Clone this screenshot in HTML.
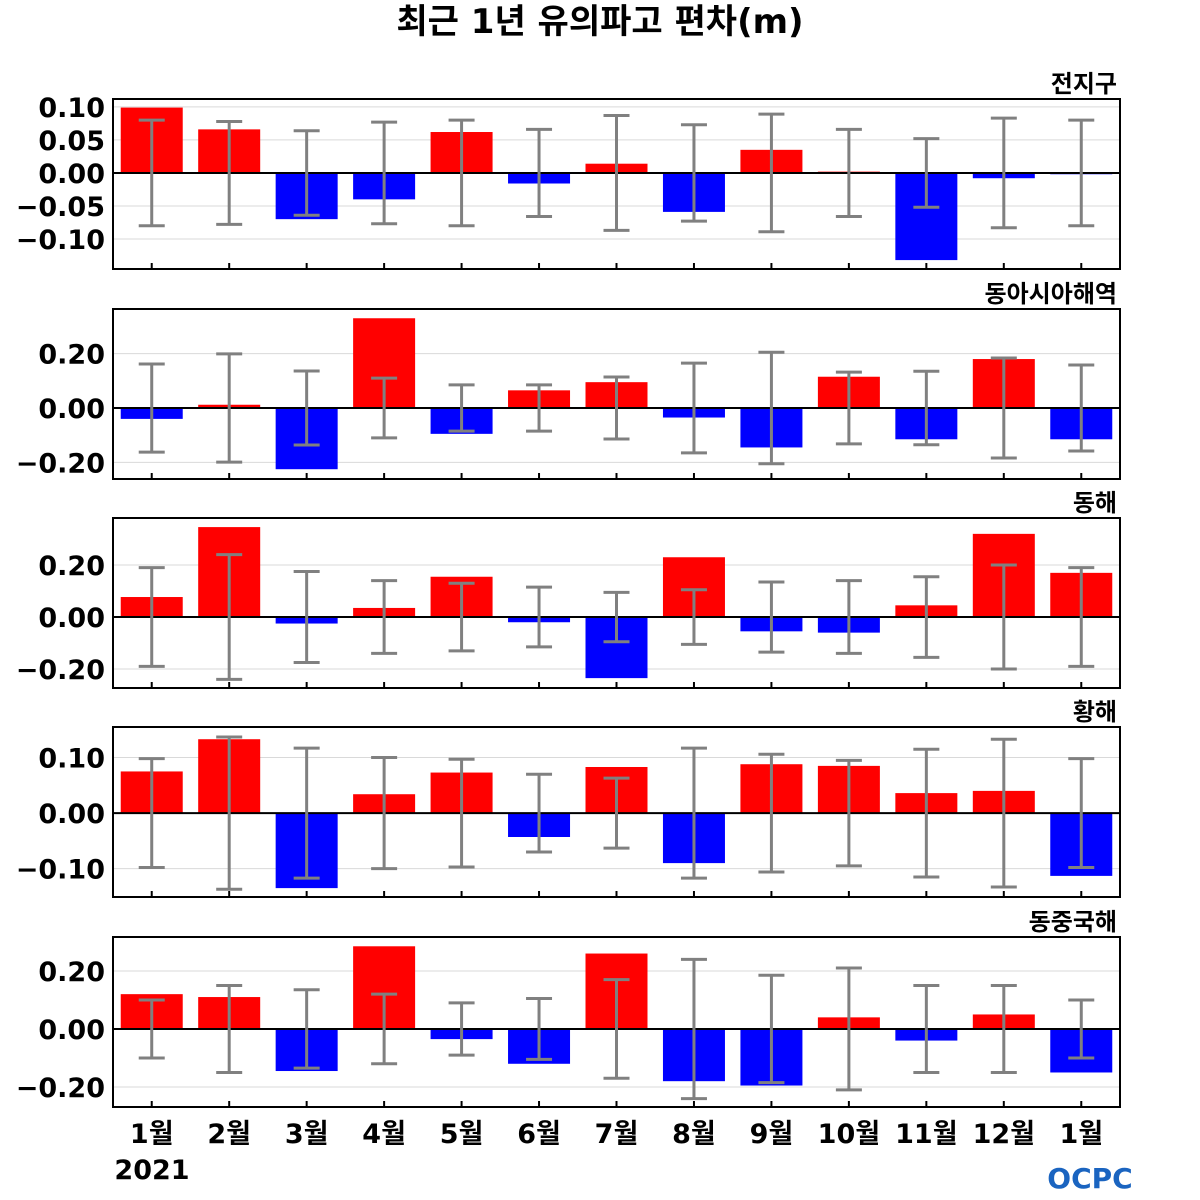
<!DOCTYPE html>
<html><head><meta charset="utf-8">
<style>
html,body{margin:0;padding:0;background:#fff;}
svg{display:block;font-family:"DejaVu Sans","Liberation Sans","Noto Sans CJK KR",sans-serif;}
</style></head>
<body>
<svg id="chart" width="1200" height="1200" viewBox="0 0 1200 1200">
<text x="600" y="33" text-anchor="middle" font-size="34" font-weight="bold" font-family="'DejaVu Sans','Noto Sans CJK KR',sans-serif">최근 1년 유의파고 편차(m)</text>
<text x="1090" y="1188" text-anchor="middle" font-size="28" font-weight="bold" fill="#1a64c0" font-family="'DejaVu Sans',sans-serif">OCPC</text>
</svg>
<script>
const months = ["1월","2월","3월","4월","5월","6월","7월","8월","9월","10월","11월","12월","1월"];
const regionNames = ["전지구","동아시아해역","동해","황해","동중국해"];
const valGlobal = [0.099,0.066,-0.070,-0.040,0.062,-0.016,0.014,-0.059,0.035,0.002,-0.132,-0.008,-0.002];
const errGlobal = [0.080,0.078,0.064,0.077,0.080,0.066,0.087,0.073,0.089,0.066,0.052,0.083,0.080];
const valEastAsia = [-0.040,0.012,-0.225,0.330,-0.095,0.065,0.095,-0.035,-0.145,0.115,-0.115,0.180,-0.115];
const errEastAsia = [0.162,0.199,0.136,0.110,0.085,0.085,0.114,0.165,0.205,0.132,0.135,0.184,0.158];
const valEastSea = [0.077,0.346,-0.025,0.035,0.155,-0.020,-0.235,0.230,-0.055,-0.060,0.045,0.320,0.170];
const errEastSea = [0.190,0.240,0.175,0.140,0.130,0.115,0.095,0.105,0.135,0.140,0.155,0.200,0.190];
const valYellowSea = [0.075,0.133,-0.135,0.034,0.073,-0.043,0.083,-0.090,0.088,0.085,0.036,0.040,-0.113];
const errYellowSea = [0.098,0.137,0.117,0.100,0.097,0.070,0.063,0.117,0.106,0.095,0.115,0.133,0.098];
const valEastChina = [0.120,0.110,-0.145,0.285,-0.035,-0.120,0.260,-0.180,-0.195,0.040,-0.040,0.050,-0.150];
const errEastChina = [0.100,0.150,0.135,0.120,0.090,0.105,0.170,0.240,0.185,0.210,0.150,0.150,0.100];
const yMin = [-0.1455,-0.261,-0.273,-0.151,-0.269];
const yMax = [0.112,0.364,0.381,0.155,0.317];
const ticksGlobal = [0.10,0.05,0.00,-0.05,-0.10];
const ticksEastAsia = [0.20,0.00,-0.20];
const ticksEastSea = [0.20,0.00,-0.20];
const ticksYellowSea = [0.10,0.00,-0.10];
const ticksEastChina = [0.20,0.00,-0.20];

const svg = document.getElementById('chart');
const NS = 'http://www.w3.org/2000/svg';
function mk(tag, attrs){const e=document.createElementNS(NS,tag);for(const k in attrs)e.setAttribute(k,attrs[k]);svg.appendChild(e);return e;}
const vals=[valGlobal,valEastAsia,valEastSea,valYellowSea,valEastChina];
const errs=[errGlobal,errEastAsia,errEastSea,errYellowSea,errEastChina];
const ticks=[ticksGlobal,ticksEastAsia,ticksEastSea,ticksYellowSea,ticksEastChina];
const tops=[99,309,518,727,937];
const H=170, X0=113, X1=1120;
const step=(X1-X0)/months.length;
const xC=i=>X0+step*(i+0.5);
const bw=62;
for(let p=0;p<5;p++){
  const top=tops[p], bot=top+H;
  const y=v=>bot-(v-yMin[p])/(yMax[p]-yMin[p])*H;
  ticks[p].forEach(t=>{
    const g=mk('line',{x1:X0,x2:X1,y1:y(t),y2:y(t),stroke:'#d9d9d9','stroke-width':1});
    
    
    const tx=mk('text',{x:105,y:y(t)+10,'text-anchor':'end','font-size':27,'font-weight':'bold'});
    tx.textContent=(t<0?'\u2212':'')+Math.abs(t).toFixed(2);
    
    
  });
  vals[p].forEach((v,i)=>{
    const r=mk('rect',{x:xC(i)-bw/2,y:Math.min(y(v),y(0)),width:bw,height:Math.abs(y(v)-y(0)),fill:v>=0?'#ff0000':'#0000ff'});
    
    
  });
  const z=mk('line',{x1:X0,x2:X1,y1:y(0),y2:y(0),stroke:'#000','stroke-width':2});
  
  
  errs[p].forEach((e,i)=>{
    const cx=xC(i);
    const eb=mk('path',{d:`M${cx},${y(e)}V${y(-e)}M${cx-13},${y(e)}H${cx+13}M${cx-13},${y(-e)}H${cx+13}`,stroke:'#808080','stroke-width':3,fill:'none'});
    
    
    const tk=mk('line',{x1:cx,x2:cx,y1:bot,y2:bot-6,stroke:'#000','stroke-width':2});
    
    
  });
  const fr=mk('rect',{x:X0,y:top,width:X1-X0,height:H,fill:'none',stroke:'#000','stroke-width':2});
  
  
  const lb=mk('text',{x:1117,y:top-7,'text-anchor':'end','font-size':24,'font-weight':'bold'});
  lb.textContent=regionNames[p];
  
  
}
months.forEach((m,i)=>{
  const t=mk('text',{x:xC(i),y:1143,'text-anchor':'middle','font-size':27,'font-weight':'bold'});
  t.textContent=m;
  
  
});
const yr=mk('text',{x:152,y:1179,'text-anchor':'middle','font-size':27,'font-weight':'bold'});
yr.textContent='2021';


</script>
</body></html>
